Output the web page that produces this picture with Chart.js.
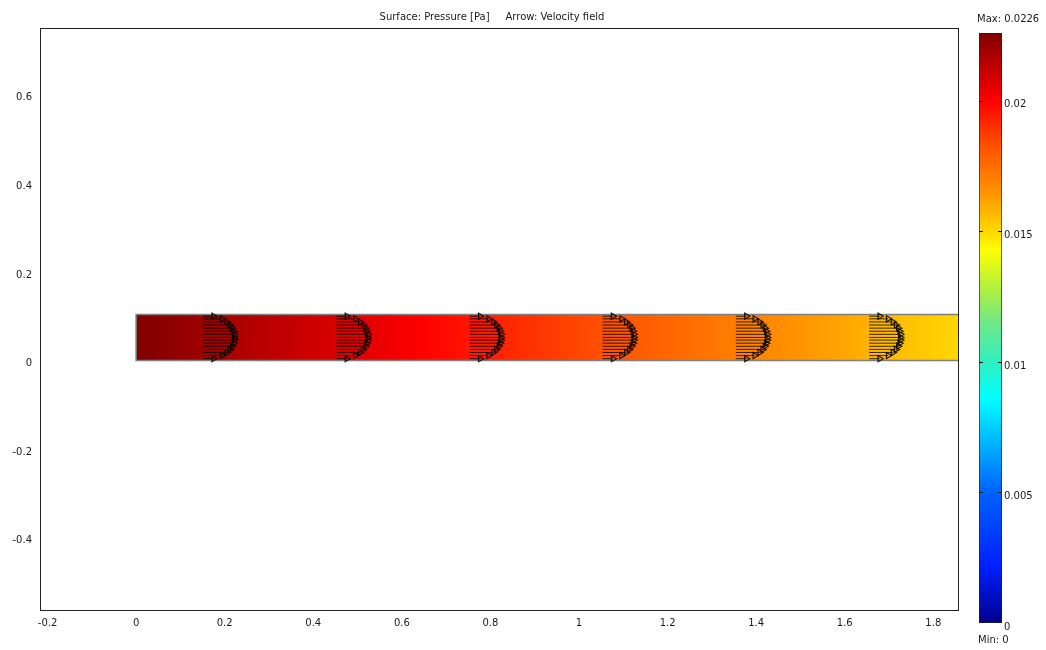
<!DOCTYPE html>
<html lang="en">
<head>
  <meta charset="UTF-8">
  <title>Surface: Pressure [Pa]  Arrow: Velocity field</title>
  <style>
    html, body { margin: 0; padding: 0; background: #fff; }
    .wrap { position: relative; width: 1046px; height: 650px; }
    #mainChart { position: absolute; left: 0; top: 0; }
    #barChart { position: absolute; left: 960px; top: 0; }
  </style>
  <script src="https://cdn.jsdelivr.net/npm/chart.js"></script>
</head>
<body>
  <div class="wrap">
    <canvas id="mainChart" width="1046" height="650"></canvas>
    <canvas id="barChart" width="86" height="650"></canvas>
  </div>

  <script>
    // axes
    const xTicks = [-0.2, 0, 0.2, 0.4, 0.6, 0.8, 1, 1.2, 1.4, 1.6, 1.8];
    const yTicks = [-0.4, -0.2, 0, 0.2, 0.4, 0.6];
    const xRange = [-0.217, 1.858];
    const yRange = [-0.566, 0.751];

    // pressure along the channel (Pa)
    const channelX = [0, 0.5, 1.0, 1.5, 2.0];
    const channelPressure = [0.0226, 0.0206, 0.0185, 0.0165, 0.0144];
    const channelHeight = 0.104;

    // velocity arrows: stations, rows across the channel, arrow lengths
    const arrowX = [0.151, 0.452, 0.753, 1.053, 1.354, 1.655];
    const arrowY = [0.004, 0.011, 0.018, 0.025, 0.032, 0.039, 0.046, 0.052, 0.059, 0.066, 0.073, 0.080, 0.087, 0.094, 0.100];
    const arrowLen = [0.024, 0.043, 0.054, 0.061, 0.066, 0.069, 0.071, 0.071, 0.071, 0.069, 0.066, 0.061, 0.054, 0.043, 0.024];

    // colour scale
    const pMin = 0;
    const pMax = 0.0226;
    const colorTicks = [0, 0.005, 0.01, 0.015, 0.02];
    const cmapValue = [0, 0.0022, 0.005, 0.0086, 0.0100, 0.0115, 0.0128, 0.0143, 0.0150, 0.0165, 0.0183, 0.0200, 0.0213, 0.0226];
    const cmapColor = ['#00008c', '#0020ff', '#0062ff', '#00ffff', '#30f0c0', '#70e888', '#b0f040', '#ffff00',
                       '#ffd800', '#ff9400', '#ff5000', '#ff0000', '#c00000', '#800000'];

    const FONT = { family: 'DejaVu Sans', size: 10 };
    const TEXT = '#1a1a1a';

    function hexRgb(h) {
      return [parseInt(h.slice(1, 3), 16), parseInt(h.slice(3, 5), 16), parseInt(h.slice(5, 7), 16)];
    }

    function interp(xs, ys, x) {
      if (x <= xs[0]) return ys[0];
      for (let i = 1; i < xs.length; i++) {
        if (x <= xs[i]) {
          const t = (x - xs[i - 1]) / (xs[i] - xs[i - 1]);
          return ys[i - 1] + t * (ys[i] - ys[i - 1]);
        }
      }
      return ys[ys.length - 1];
    }

    function cmap(p) {
      let i = 1;
      while (i < cmapValue.length - 1 && p > cmapValue[i]) i++;
      const t = Math.max(0, Math.min(1, (p - cmapValue[i - 1]) / (cmapValue[i] - cmapValue[i - 1])));
      const a = hexRgb(cmapColor[i - 1]), b = hexRgb(cmapColor[i]);
      const c = a.map((v, k) => Math.round(v + t * (b[k] - v)));
      return 'rgb(' + c.join(',') + ')';
    }

    function fmt(v) {
      return String(Math.round(v * 1000) / 1000);
    }

    // channel fill follows the pressure along x
    function channelGradient(ctx) {
      const chart = ctx.chart;
      if (!chart.chartArea) return 'rgba(0,0,0,0)';
      const xs = chart.scales.x;
      const x0 = channelX[0], x1 = channelX[channelX.length - 1];
      const g = chart.ctx.createLinearGradient(xs.getPixelForValue(x0), 0, xs.getPixelForValue(x1), 0);
      const n = 80;
      for (let k = 0; k <= n; k++) {
        const x = x0 + (x1 - x0) * k / n;
        g.addColorStop(k / n, cmap(interp(channelX, channelPressure, x)));
      }
      return g;
    }

    // arrow shafts: tail -> tip, broken by a gap point
    const arrowData = [];
    arrowX.forEach(sx => {
      arrowY.forEach((y, i) => {
        arrowData.push({ x: sx, y: y });
        arrowData.push({ x: sx + arrowLen[i], y: y, tip: true });
        arrowData.push({ x: sx, y: null });
      });
    });

    const framePlugin = {
      id: 'frame',
      afterDraw(chart) {
        const { ctx, chartArea: a } = chart;
        ctx.save();
        ctx.strokeStyle = '#222';
        ctx.lineWidth = 1;
        ctx.strokeRect(Math.round(a.left) + 0.5, Math.round(a.top) + 0.5,
                       Math.round(a.right - a.left) - 1, Math.round(a.bottom - a.top) - 1);
        ctx.fillStyle = TEXT;
        ctx.font = '10px "DejaVu Sans"';
        ctx.textAlign = 'center';
        ctx.textBaseline = 'middle';
        ctx.fillText('Surface: Pressure [Pa]     Arrow: Velocity field', 492, 17);
        ctx.restore();
      }
    };

    new Chart(document.getElementById('mainChart'), {
      type: 'scatter',
      data: {
        datasets: [
          {
            label: 'Velocity field',
            data: arrowData,
            showLine: true,
            spanGaps: false,
            borderColor: 'rgba(0,0,0,0.78)',
            borderWidth: 1,
            pointRadius: c => (c.raw && c.raw.tip ? 3.5 : 0),
            pointStyle: 'triangle',
            rotation: 90,
            pointBackgroundColor: 'rgba(0,0,0,0)',
            pointBorderColor: 'rgba(0,0,0,0.85)',
            pointBorderWidth: 1.2,
            order: 0
          },
          {
            label: 'Boundary',
            data: [{ x: channelX[channelX.length - 1], y: 0 }, { x: 0, y: 0 }, { x: 0, y: channelHeight },
                   { x: channelX[channelX.length - 1], y: channelHeight }],
            showLine: true,
            borderColor: '#808080',
            borderWidth: 1.5,
            pointRadius: 0,
            order: 1
          },
          {
            label: 'Pressure',
            data: [{ x: channelX[0], y: channelHeight }, { x: channelX[channelX.length - 1], y: channelHeight }],
            showLine: true,
            borderWidth: 0,
            pointRadius: 0,
            fill: { value: 0 },
            backgroundColor: channelGradient,
            order: 2
          }
        ]
      },
      options: {
        responsive: false,
        animation: false,
        devicePixelRatio: 1,
        layout: { padding: { top: 28, right: 87, left: 0, bottom: 0 } },
        plugins: { legend: { display: false }, tooltip: { enabled: false }, title: { display: false } },
        scales: {
          x: {
            type: 'linear',
            min: xRange[0],
            max: xRange[1],
            afterFit: s => { s.height = 39; },
            afterBuildTicks: s => { s.ticks = xTicks.map(v => ({ value: v })); },
            grid: { display: false, drawTicks: false },
            border: { display: false },
            ticks: { font: FONT, color: TEXT, padding: 6, maxRotation: 0, autoSkip: false, callback: v => fmt(v) }
          },
          y: {
            type: 'linear',
            min: yRange[0],
            max: yRange[1],
            afterFit: s => { s.width = 40; },
            afterBuildTicks: s => { s.ticks = yTicks.map(v => ({ value: v })); },
            grid: { display: false, drawTicks: false },
            border: { display: false },
            ticks: { font: FONT, color: TEXT, padding: 8, labelOffset: 3, autoSkip: false, callback: v => fmt(v) }
          }
        }
      },
      plugins: [framePlugin]
    });

    // colour bar
    function barGradient(ctx) {
      const chart = ctx.chart;
      if (!chart.chartArea) return 'rgba(0,0,0,0)';
      const ys = chart.scales.y;
      const g = chart.ctx.createLinearGradient(0, ys.getPixelForValue(pMin), 0, ys.getPixelForValue(pMax));
      cmapValue.forEach((v, i) => g.addColorStop((v - pMin) / (pMax - pMin), cmapColor[i]));
      return g;
    }

    const barPlugin = {
      id: 'barMarks',
      afterDraw(chart) {
        const { ctx, chartArea: a } = chart;
        const ys = chart.scales.y;
        ctx.save();
        ctx.strokeStyle = '#111';
        ctx.lineWidth = 1;
        colorTicks.forEach(v => {
          if (v === pMin) return;
          const y = Math.round(ys.getPixelForValue(v)) + 0.5;
          ctx.beginPath();
          ctx.moveTo(a.left, y); ctx.lineTo(a.left + 4, y);
          ctx.moveTo(a.right - 4, y); ctx.lineTo(a.right, y);
          ctx.stroke();
        });
        ctx.fillStyle = TEXT;
        ctx.font = '10px "DejaVu Sans"';
        ctx.textAlign = 'left';
        ctx.textBaseline = 'middle';
        ctx.fillText('Max: ' + pMax, 17, 19);
        ctx.fillText('Min: ' + pMin, 18, 640);
        ctx.restore();
      }
    };

    new Chart(document.getElementById('barChart'), {
      type: 'bar',
      data: {
        labels: ['Pressure'],
        datasets: [{
          data: [[pMin, pMax]],
          backgroundColor: barGradient,
          borderColor: '#222',
          borderWidth: 1,
          borderSkipped: false,
          barPercentage: 1,
          categoryPercentage: 1
        }]
      },
      options: {
        responsive: false,
        animation: false,
        devicePixelRatio: 1,
        layout: { padding: { top: 33, left: 19, bottom: 27, right: 0 } },
        plugins: { legend: { display: false }, tooltip: { enabled: false } },
        scales: {
          x: { display: false },
          y: {
            position: 'right',
            min: pMin,
            max: pMax,
            afterFit: s => { s.width = 44; },
            afterBuildTicks: s => { s.ticks = colorTicks.map(v => ({ value: v })); },
            grid: { display: false, drawTicks: false },
            border: { display: false },
            ticks: { font: FONT, color: TEXT, padding: 2, labelOffset: 4, autoSkip: false, callback: v => fmt(v) }
          }
        }
      },
      plugins: [barPlugin]
    });
  </script>
</body>
</html>
